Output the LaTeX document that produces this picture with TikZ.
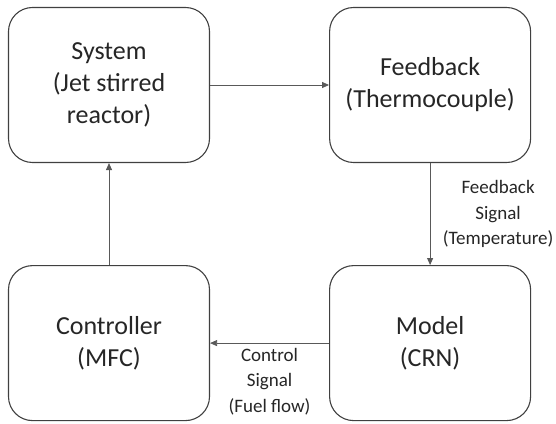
\documentclass[tikz,border=0pt]{standalone}
\usepackage{fontspec}
\setmainfont{Carlito}
\usetikzlibrary{arrows.meta,positioning}
\definecolor{BoxLine}{HTML}{404040}
\definecolor{LinkLine}{HTML}{595959}
\definecolor{TextDark}{HTML}{262626}

\tikzset{
  blockbox/.style={rectangle,rounded corners=24pt,draw=BoxLine,line width=1.1pt,
                   minimum width=201pt,minimum height=155pt,align=center,
                   text=TextDark,font=\fontsize{26}{32}\selectfont},
  link/.style={draw=LinkLine,line width=0.8pt,-{Triangle[length=7pt,width=6pt]}},
  sigtext/.style={align=center,text=TextDark,font=\fontsize{19}{25.5}\selectfont},
}

\begin{document}
\begin{tikzpicture}
    \useasboundingbox (0,0) rectangle (556pt,423pt);
    \node[blockbox] (system) at (109pt,338pt) {System\\(Jet stirred\\reactor)};
    \node[blockbox,right=119pt of system] (sensor) {Feedback\\(Thermocouple)};
    \node[blockbox,below=102pt of system] (controller) {Controller\\(MFC)};
    \node[blockbox,right=119pt of controller] (model) {Model\\(CRN)};

    \draw[link] (system) -- (sensor);
    \draw[link] (sensor) -- node[sigtext,right=9pt] {Feedback\\Signal\\(Temperature)} (model);
    \draw[link] (model) -- node[sigtext,below=1pt] {Control\\Signal\\(Fuel flow)} (controller);
    \draw[link] (controller) -- (system);
  \end{tikzpicture}
\end{document}
